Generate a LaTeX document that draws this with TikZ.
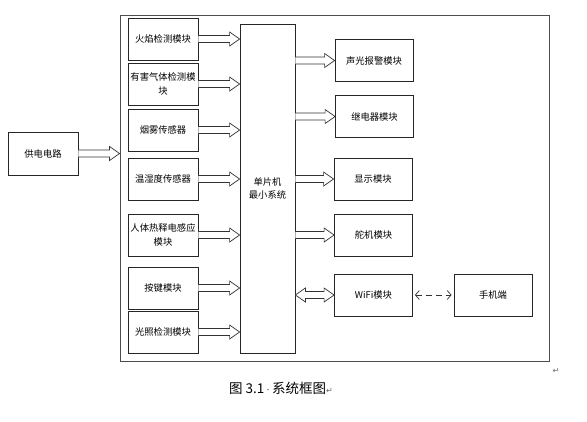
\documentclass[tikz,border=0pt]{standalone}
\usepackage{fontspec}
\setmainfont{Noto Sans CJK SC}
\newfontfamily\symfont{DejaVu Sans}
\usetikzlibrary{calc,arrows.meta}
\def\fatarrow(#1)(#2){\draw[fat] ($(#1)+(0,3.5)$) -- ($(#2)+(-10,3.5)$) -- ($(#2)+(-10,7)$) -- (#2) -- ($(#2)+(-10,-7)$) -- ($(#2)+(-10,-3.5)$) -- ($(#1)+(0,-3.5)$);}
\def\fatboth(#1)(#2){\draw[fat] ($(#1)+(10,3.5)$) -- ($(#2)+(-10,3.5)$) -- ($(#2)+(-10,7)$) -- (#2) -- ($(#2)+(-10,-7)$) -- ($(#2)+(-10,-3.5)$) -- ($(#1)+(10,-3.5)$) -- ($(#1)+(10,-7)$) -- (#1) -- ($(#1)+(10,7)$) -- cycle;}

\begin{document}
\begin{tikzpicture}[x=1pt,y=-1pt,
	box/.style={draw=black!85, line width=0.8pt, minimum width=70pt, minimum height=42pt, inner sep=0pt, align=center, font=\fontsize{9.3}{13.5}\selectfont},
	outbox/.style={box, minimum width=78pt},
	fat/.style={draw=black!80, line width=0.7pt, fill=white, line join=miter},
	link/.style={draw=black!80, line width=0.7pt, dash pattern=on 6pt off 4pt, {Straight Barb[length=4pt,width=9pt]}-{Straight Barb[length=4pt,width=9pt]}}]
	%%%%% START %%%%%
	\useasboundingbox (0,0) rectangle (587,421);
	
	\node[box, minimum height=43pt] (power) at (43,153.5) {供电电路};
	\node[draw=black!70, line width=0.9pt, minimum width=429pt, minimum height=346pt, inner sep=0pt] (sys) at (334.5,188) {};
	
	\node[box] (f1) at (163,39) {火焰检测模块};
	\node[box] (f2) at (163,84) {有害气体检测模\\块};
	\node[box] (f3) at (163,130) {烟雾传感器};
	\node[box] (f4) at (163,179) {温湿度传感器};
	\node[box] (f5) at (163,235) {人体热释电感应\\模块};
	\node[box] (f6) at (163,288) {按键模块};
	\node[box] (f7) at (163,332) {光照检测模块};
	
	\node[box, minimum width=55pt, minimum height=329pt] (mcu) at (267.5,188.5) {单片机\\最小系统};
	
	\node[outbox] (alarm) at (374,60.5) {声光报警模块};
	\node[outbox] (relay) at (374.5,116.5) {继电器模块};
	\node[outbox] (disp) at (373,179) {显示模块};
	\node[outbox] (servo) at (373.5,235) {舵机模块};
	\node[outbox] (wifi) at (373.5,295) {WiFi模块};
	\node[outbox] (phone) at (493,295) {手机端};
	
	\fatarrow(power.east)(sys.west |- power.east)
	\fatarrow(f1.east)(mcu.west |- f1.east)
	\fatarrow(f2.east)(mcu.west |- f2.east)
	\fatarrow(f3.east)(mcu.west |- f3.east)
	\fatarrow(f4.east)(mcu.west |- f4.east)
	\fatarrow(f5.east)(mcu.west |- f5.east)
	\fatarrow(f6.east)(mcu.west |- f6.east)
	\fatarrow(f7.east)(mcu.west |- f7.east)
	
	\fatarrow(mcu.east |- alarm.west)(alarm.west)
	\fatarrow(mcu.east |- relay.west)(relay.west)
	\fatarrow(mcu.east |- disp.west)(disp.west)
	\fatarrow(mcu.east |- servo.west)(servo.west)
	\fatboth(mcu.east |- wifi.west)(wifi.west)
	
	\draw[link] ($(wifi.east)+(2,0)$) -- ($(phone.west)+(-2,0)$);
	
	\node[anchor=west, inner sep=0pt, font=\fontsize{13.5}{15}\selectfont] (cap) at (229,388) {图 3.1\,{\symfont\fontsize{10}{10}\selectfont\color{black!70}·}\,系统框图{\symfont\fontsize{8}{8}\selectfont\color{black!60}↵}};
	\node[inner sep=0pt, font=\symfont\fontsize{8}{8}\selectfont, text=black!60] (mark) at (556,371) {↵};
	%%%%% END %%%%%
\end{tikzpicture}
\end{document}
